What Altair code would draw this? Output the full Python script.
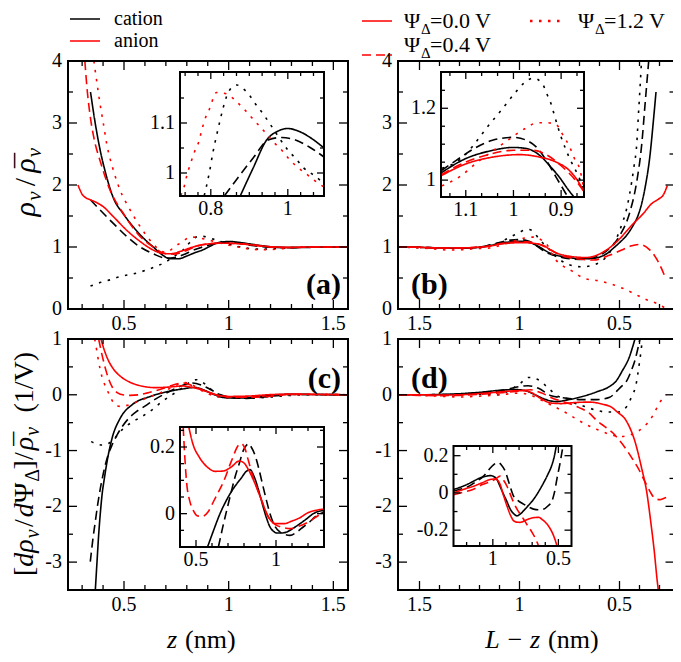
import altair as alt
import pandas as pd

# ------------------------------------------------------------------
# DATA
# ------------------------------------------------------------------
# panel (a): rho/rhobar versus z (nm)
A_CAT_00 = [(0.34,3.5),(0.36,3.05),(0.385,2.58),(0.41,2.22),(0.447,1.81),(0.5,1.52),(0.543,1.33),(0.6,1.12),(0.64,1.0),(0.68,0.88),(0.72,0.81),(0.76,0.81),(0.8,0.855),(0.84,0.91),(0.877,0.954),(0.91,1.01),(0.945,1.066),(0.975,1.083),(1.0,1.089),(1.05,1.075),(1.1,1.05),(1.15,1.025),(1.2,1.005),(1.3,0.99),(1.4,0.995),(1.57,1.0)]
A_CAT_04 = [(0.34,1.76),(0.385,1.6),(0.449,1.38),(0.513,1.17),(0.577,1.0),(0.64,0.89),(0.7,0.82),(0.74,0.83),(0.78,0.87),(0.836,0.954),(0.89,1.015),(0.949,1.066),(0.984,1.071),(1.04,1.06),(1.09,1.033),(1.15,1.01),(1.2,0.995),(1.3,0.99),(1.4,0.998),(1.57,1.0)]
A_CAT_12 = [(0.34,0.37),(0.39,0.43),(0.433,0.47),(0.49,0.53),(0.543,0.565),(0.6,0.62),(0.648,0.68),(0.7,0.76),(0.74,0.85),(0.77,0.92),(0.783,0.954),(0.796,1.0),(0.806,1.043),(0.815,1.075),(0.824,1.105),(0.832,1.13),(0.841,1.153),(0.854,1.171),(0.868,1.176),(0.88,1.171),(0.901,1.155),(0.918,1.136),(0.936,1.118),(0.953,1.099),(0.984,1.063),(1.0,1.046),(1.023,1.027),(1.04,1.011),(1.067,0.996),(1.086,0.982),(1.15,0.965),(1.2,0.97),(1.3,0.99),(1.4,1.0),(1.57,1.0)]
A_AN_00 = [(0.28,2.0),(0.29,1.92),(0.3,1.85),(0.315,1.8),(0.34,1.76),(0.361,1.73),(0.401,1.65),(0.449,1.49),(0.513,1.27),(0.577,1.09),(0.64,0.95),(0.68,0.9),(0.72,0.89),(0.77,0.93),(0.82,0.99),(0.864,1.03),(0.92,1.055),(0.96,1.06),(1.0,1.06),(1.06,1.05),(1.12,1.03),(1.2,1.005),(1.3,0.995),(1.4,1.0),(1.57,1.0)]
A_AN_04 = [(0.313,4.0),(0.325,3.5),(0.337,3.15),(0.36,2.7),(0.385,2.4),(0.433,1.92),(0.497,1.54),(0.577,1.17),(0.64,1.0),(0.69,0.9),(0.736,0.885),(0.78,0.92),(0.83,0.99),(0.88,1.04),(0.95,1.06),(1.0,1.06),(1.06,1.05),(1.12,1.03),(1.2,1.0),(1.3,0.99),(1.4,1.0),(1.57,1.0)]
A_AN_12 = [(0.356,4.0),(0.369,3.69),(0.385,3.32),(0.401,3.0),(0.417,2.67),(0.449,2.24),(0.481,1.92),(0.529,1.6),(0.577,1.33),(0.624,1.11),(0.66,0.98),(0.69,0.92),(0.71,0.92),(0.724,0.954),(0.747,1.018),(0.769,1.063),(0.796,1.127),(0.815,1.161),(0.842,1.158),(0.865,1.144),(0.886,1.128),(0.925,1.095),(0.964,1.061),(1.003,1.028),(1.047,0.999),(1.088,0.974),(1.15,0.955),(1.2,0.96),(1.3,0.985),(1.4,1.0),(1.57,1.0)]
# inset of (a)
AI_CAT_00 = [(0.877,0.955),(0.91,1.01),(0.945,1.066),(0.975,1.084),(1.0,1.089),(1.03,1.083),(1.06,1.07),(1.094,1.05)]
AI_CAT_04 = [(0.836,0.955),(0.87,0.99),(0.91,1.03),(0.949,1.066),(0.984,1.071),(1.02,1.066),(1.06,1.05),(1.094,1.032)]
AI_CAT_12 = [(0.783,0.955),(0.796,1.0),(0.806,1.043),(0.815,1.075),(0.824,1.105),(0.832,1.13),(0.841,1.153),(0.854,1.171),(0.868,1.176),(0.88,1.171),(0.901,1.155),(0.918,1.136),(0.936,1.118),(0.953,1.099),(0.984,1.063),(1.0,1.046),(1.023,1.027),(1.04,1.011),(1.067,0.996),(1.094,0.979)]
AI_AN_12 = [(0.722,0.955),(0.732,0.976),(0.738,0.996),(0.747,1.018),(0.758,1.043),(0.769,1.063),(0.776,1.084),(0.784,1.106),(0.796,1.127),(0.815,1.161),(0.842,1.158),(0.865,1.144),(0.886,1.128),(0.906,1.111),(0.925,1.095),(0.945,1.078),(0.964,1.061),(0.984,1.046),(1.003,1.028),(1.023,1.013),(1.047,0.999),(1.066,0.987),(1.094,0.972)]

# panel (b): rho/rhobar versus L - z (nm)
B_CAT_00 = [(1.6075,1.0),(1.5,0.995),(1.4,0.985),(1.3,0.98),(1.2,0.995),(1.152,1.02),(1.1,1.06),(1.05,1.081),(1.0,1.091),(0.973,1.088),(0.945,1.069),(0.924,1.04),(0.903,1.007),(0.875,0.95),(0.84,0.89),(0.8,0.855),(0.764,0.84),(0.72,0.815),(0.681,0.81),(0.64,0.815),(0.5975,0.84),(0.56,0.9),(0.531,0.98),(0.5,1.07),(0.464,1.19),(0.435,1.33),(0.406,1.52),(0.3875,1.72),(0.3725,1.95),(0.3475,2.48),(0.331,3.02),(0.3175,3.5)]
B_CAT_04 = [(1.6075,1.0),(1.5,0.995),(1.4,0.985),(1.3,0.98),(1.2,1.0),(1.152,1.026),(1.12,1.055),(1.086,1.085),(1.044,1.111),(1.0,1.119),(0.973,1.111),(0.949,1.088),(0.931,1.055),(0.91,1.007),(0.889,0.96),(0.85,0.89),(0.8,0.84),(0.75,0.81),(0.6975,0.8),(0.631,0.83),(0.56,0.95),(0.4975,1.19),(0.4475,1.57),(0.414,2.05),(0.389,2.65),(0.3725,3.29),(0.354,4.0)]
B_CAT_12 = [(1.6075,1.0),(1.5,0.99),(1.4,0.98),(1.3,0.975),(1.2,1.0),(1.15,1.033),(1.12,1.05),(1.1,1.072),(1.084,1.097),(1.054,1.149),(1.026,1.194),(0.994,1.247),(0.978,1.27),(0.959,1.284),(0.94,1.27),(0.93,1.24),(0.921,1.212),(0.914,1.18),(0.9,1.12),(0.882,1.06),(0.861,1.003),(0.848,0.95),(0.8,0.8),(0.7475,0.71),(0.689,0.68),(0.631,0.71),(0.5475,0.92),(0.52,1.1),(0.49,1.35),(0.464,1.62),(0.439,2.05),(0.4275,2.3),(0.414,2.65),(0.406,3.1),(0.3975,3.56),(0.39,4.0)]
B_AN_00 = [(1.6075,1.0),(1.5,0.995),(1.4,0.985),(1.3,0.985),(1.2,0.998),(1.152,1.012),(1.1,1.045),(1.044,1.064),(0.987,1.071),(0.945,1.064),(0.91,1.05),(0.882,1.026),(0.865,0.998),(0.856,0.975),(0.82,0.91),(0.78,0.87),(0.7475,0.85),(0.664,0.83),(0.581,0.92),(0.506,1.11),(0.439,1.35),(0.381,1.54),(0.339,1.7),(0.306,1.77),(0.281,1.84),(0.261,1.99)]
B_AN_04 = [(1.6075,1.0),(1.5,0.995),(1.4,0.985),(1.3,0.985),(1.2,1.0),(1.152,1.015),(1.1,1.05),(1.05,1.072),(1.0,1.083),(0.96,1.083),(0.93,1.07),(0.9,1.04),(0.87,1.0),(0.852,0.97),(0.7975,0.87),(0.714,0.81),(0.631,0.79),(0.5475,0.87),(0.489,0.95),(0.439,1.02),(0.3975,1.04),(0.3475,0.95),(0.306,0.76),(0.2725,0.52)]
B_AN_12 = [(1.6075,1.0),(1.5,0.985),(1.4,0.96),(1.35,0.95),(1.3,0.955),(1.2,0.975),(1.15,0.984),(1.11,1.012),(1.08,1.045),(1.05,1.075),(1.015,1.108),(0.994,1.128),(0.975,1.144),(0.952,1.159),(0.931,1.16),(0.91,1.154),(0.896,1.125),(0.882,1.092),(0.872,1.06),(0.861,1.031),(0.852,0.98),(0.83,0.84),(0.789,0.71),(0.731,0.6),(0.681,0.5),(0.5975,0.45),(0.539,0.4),(0.481,0.33),(0.4225,0.24),(0.3725,0.16),(0.314,0.09),(0.264,0.0)]
# inset of (b)
BI_CAT_00 = [(1.152,1.02),(1.1,1.06),(1.05,1.081),(1.0,1.091),(0.973,1.088),(0.945,1.069),(0.924,1.04),(0.903,1.007),(0.886,0.975),(0.873,0.953)]
BI_CAT_04 = [(1.152,1.026),(1.12,1.055),(1.086,1.085),(1.044,1.111),(1.0,1.119),(0.973,1.111),(0.949,1.088),(0.931,1.055),(0.91,1.007),(0.889,0.96),(0.886,0.953)]
BI_CAT_12 = [(1.15,1.033),(1.12,1.05),(1.1,1.072),(1.084,1.097),(1.054,1.149),(1.026,1.194),(0.994,1.247),(0.978,1.27),(0.959,1.284),(0.94,1.27),(0.93,1.24),(0.921,1.212),(0.914,1.18),(0.9,1.12),(0.882,1.06),(0.861,1.003),(0.853,0.975)]
BI_AN_00 = [(1.152,1.012),(1.1,1.045),(1.044,1.064),(0.987,1.071),(0.945,1.064),(0.91,1.05),(0.882,1.026),(0.865,0.998),(0.853,0.97)]
BI_AN_04 = [(1.152,1.015),(1.1,1.05),(1.05,1.072),(1.0,1.083),(0.96,1.083),(0.93,1.07),(0.9,1.04),(0.87,1.0),(0.853,0.97)]
BI_AN_12 = [(1.15,0.984),(1.11,1.012),(1.08,1.045),(1.05,1.075),(1.015,1.108),(0.994,1.128),(0.975,1.144),(0.952,1.159),(0.931,1.16),(0.91,1.154),(0.896,1.125),(0.882,1.092),(0.872,1.06),(0.861,1.031),(0.853,0.98)]

# panel (c): [d rho / d Psi]/rhobar versus z (nm)
C_CAT_00 = [(0.363,-3.5),(0.371,-3.0),(0.379,-2.51),(0.387,-2.12),(0.395,-1.8),(0.407,-1.48),(0.419,-1.2),(0.443,-0.78),(0.482,-0.42),(0.538,-0.18),(0.572,-0.1),(0.61,-0.05),(0.65,0.0),(0.69,0.04),(0.733,0.075),(0.78,0.105),(0.8375,0.132),(0.879,0.09),(0.92,0.02),(0.9625,-0.04),(1.004,-0.058),(1.067,-0.055),(1.15,-0.03),(1.233,0.0),(1.3,0.01),(1.4,0.005),(1.57,0.0)]
C_CAT_04 = [(0.339,-2.99),(0.351,-2.6),(0.363,-2.27),(0.375,-1.95),(0.387,-1.68),(0.403,-1.38),(0.419,-1.14),(0.443,-0.9),(0.467,-0.72),(0.523,-0.42),(0.56,-0.3),(0.602,-0.2),(0.64,-0.1),(0.692,0.01),(0.744,0.11),(0.796,0.19),(0.827,0.21),(0.869,0.175),(0.91,0.1),(0.9625,0.0),(1.025,-0.055),(1.0875,-0.065),(1.17,-0.04),(1.244,-0.01),(1.3,0.005),(1.4,0.005),(1.57,0.0)]
C_CAT_12 = [(0.343,-0.84),(0.37,-0.88),(0.395,-0.9),(0.443,-0.83),(0.49,-0.63),(0.538,-0.49),(0.586,-0.39),(0.634,-0.27),(0.682,-0.12),(0.73,0.0),(0.778,0.12),(0.825,0.25),(0.845,0.27),(0.87,0.24),(0.9,0.15),(0.94,0.03),(0.98,-0.04),(1.03,-0.06),(1.1,-0.06),(1.2,-0.04),(1.3,-0.01),(1.4,0.0),(1.57,0.0)]
C_AN_00 = [(0.39,1.0),(0.4,0.87),(0.42,0.66),(0.45,0.46),(0.48,0.34),(0.52,0.24),(0.56,0.18),(0.6,0.145),(0.65,0.128),(0.7,0.135),(0.75,0.15),(0.775,0.16),(0.8,0.15),(0.86,0.1),(0.91,0.04),(0.95,-0.01),(1.0,-0.03),(1.1,-0.022),(1.2,0.003),(1.3,0.012),(1.4,0.008),(1.57,0.0)]
C_AN_04 = [(0.379,1.0),(0.39,0.8),(0.403,0.59),(0.415,0.42),(0.427,0.28),(0.445,0.13),(0.467,0.04),(0.5,-0.005),(0.53,-0.01),(0.57,0.0),(0.608,0.03),(0.671,0.095),(0.723,0.16),(0.765,0.205),(0.785,0.21),(0.827,0.16),(0.879,0.08),(0.942,0.0),(1.004,-0.035),(1.0875,-0.045),(1.19,-0.03),(1.296,0.005),(1.4,0.005),(1.57,0.0)]
C_AN_12 = [(0.36,1.0),(0.371,0.77),(0.379,0.59),(0.395,0.32),(0.407,0.19),(0.419,0.09),(0.435,-0.04),(0.451,-0.15),(0.47,-0.2),(0.49,-0.21),(0.515,-0.19),(0.546,-0.15),(0.6,-0.07),(0.65,0.0),(0.7,0.08),(0.75,0.17),(0.78,0.22),(0.81,0.21),(0.85,0.12),(0.9,0.02),(0.95,-0.04),(1.0,-0.05),(1.1,-0.04),(1.2,-0.02),(1.3,0.0),(1.4,0.01),(1.57,0.0)]
# inset of (c)
CI_CAT_00 = [(0.572,-0.1),(0.61,-0.05),(0.65,0.0),(0.69,0.04),(0.733,0.075),(0.78,0.105),(0.817,0.128),(0.8375,0.132),(0.86,0.115),(0.879,0.09),(0.9,0.055),(0.92,0.02),(0.94,-0.012),(0.9625,-0.04),(0.985,-0.053),(1.004,-0.058),(1.035,-0.058),(1.067,-0.055),(1.11,-0.043),(1.15,-0.03),(1.19,-0.016),(1.233,0.0),(1.3,0.01)]
CI_CAT_04 = [(0.64,-0.1),(0.665,-0.045),(0.692,0.01),(0.72,0.065),(0.744,0.11),(0.77,0.15),(0.796,0.19),(0.815,0.205),(0.827,0.21),(0.845,0.2),(0.869,0.175),(0.89,0.14),(0.91,0.1),(0.935,0.05),(0.9625,0.0),(0.99,-0.035),(1.025,-0.055),(1.06,-0.063),(1.0875,-0.065),(1.13,-0.055),(1.17,-0.04),(1.21,-0.025),(1.244,-0.01),(1.3,0.005)]
CI_AN_00 = [(0.455,0.26),(0.48,0.21),(0.52,0.17),(0.57,0.14),(0.62,0.127),(0.67,0.128),(0.72,0.14),(0.77,0.158),(0.8,0.152),(0.83,0.13),(0.86,0.1),(0.91,0.04),(0.95,-0.008),(1.0,-0.03),(1.05,-0.03),(1.1,-0.022),(1.15,-0.012),(1.2,0.003),(1.25,0.01),(1.3,0.014)]
CI_AN_04 = [(0.42,0.26),(0.43,0.17),(0.442,0.09),(0.46,0.04),(0.483,0.01),(0.51,-0.007),(0.54,-0.008),(0.575,0.005),(0.608,0.035),(0.64,0.065),(0.671,0.095),(0.723,0.16),(0.765,0.205),(0.785,0.21),(0.806,0.195),(0.827,0.16),(0.85,0.12),(0.879,0.08),(0.91,0.04),(0.942,0.0),(0.975,-0.025),(1.004,-0.035),(1.05,-0.042),(1.0875,-0.045),(1.14,-0.038),(1.19,-0.028),(1.25,-0.01),(1.3,0.005)]

# panel (d): [d rho / d Psi]/rhobar versus L - z (nm)
D_CAT_00 = [(1.6075,0.0),(1.5,0.0),(1.4,0.005),(1.3,0.019),(1.198,0.045),(1.096,0.081),(1.02,0.093),(0.969,0.072),(0.918,-0.008),(0.867,-0.087),(0.816,-0.123),(0.766,-0.096),(0.689,-0.034),(0.613,0.054),(0.549,0.151),(0.516,0.25),(0.489,0.41),(0.4475,0.71),(0.435,0.85),(0.4225,1.0)]
D_CAT_04 = [(1.6075,0.0),(1.5,0.0),(1.4,0.003),(1.3,0.01),(1.198,0.03),(1.071,0.09),(0.995,0.151),(0.957,0.163),(0.905,0.116),(0.842,-0.017),(0.766,-0.06),(0.689,-0.087),(0.613,-0.087),(0.549,-0.043),(0.531,0.0),(0.51,0.08),(0.49,0.15),(0.464,0.25),(0.4425,0.42),(0.4225,0.62),(0.41,0.8),(0.3975,1.0)]
D_CAT_12 = [(1.6075,0.0),(1.5,0.0),(1.4,0.0),(1.3,0.0),(1.2,0.01),(1.0975,0.0),(1.0475,0.09),(0.9975,0.2),(0.956,0.31),(0.906,0.27),(0.856,0.12),(0.806,-0.03),(0.7725,-0.06),(0.7225,-0.15),(0.6725,-0.21),(0.6225,-0.27),(0.564,-0.31),(0.506,-0.31),(0.464,-0.21),(0.439,-0.03),(0.4175,0.18),(0.401,0.56),(0.389,0.89),(0.386,1.0)]
D_AN_00 = [(1.6075,0.0),(1.5,0.0),(1.4,-0.005),(1.3,0.0),(1.147,0.036),(1.02,0.072),(0.982,0.075),(0.944,0.045),(0.892,-0.07),(0.842,-0.149),(0.791,-0.158),(0.727,-0.14),(0.651,-0.131),(0.587,-0.167),(0.537,-0.229),(0.514,-0.3),(0.464,-0.48),(0.4225,-0.84),(0.389,-1.32),(0.364,-1.74),(0.344,-2.27),(0.326,-2.81),(0.311,-3.35),(0.306,-3.5)]
D_AN_04 = [(1.6075,0.0),(1.5,-0.01),(1.4,-0.015),(1.3,-0.01),(1.147,0.02),(1.02,0.06),(0.944,0.09),(0.892,0.036),(0.829,-0.07),(0.766,-0.14),(0.702,-0.23),(0.651,-0.33),(0.614,-0.46),(0.57,-0.58),(0.531,-0.69),(0.5,-0.82),(0.464,-0.99),(0.435,-1.15),(0.406,-1.32),(0.385,-1.47),(0.364,-1.62),(0.345,-1.75),(0.331,-1.83),(0.315,-1.87),(0.2975,-1.88),(0.28,-1.86),(0.264,-1.84)]
D_AN_12 = [(1.6075,0.0),(1.5,-0.01),(1.4,-0.025),(1.3,-0.04),(1.2,-0.025),(1.1,0.0),(1.0,0.03),(0.95,0.0),(0.9,-0.08),(0.85,-0.17),(0.8,-0.26),(0.764,-0.33),(0.7225,-0.42),(0.664,-0.54),(0.606,-0.63),(0.5475,-0.71),(0.4975,-0.75),(0.4475,-0.72),(0.3975,-0.63),(0.361,-0.51),(0.331,-0.36),(0.301,-0.15),(0.2675,0.0)]
# inset of (d)
DI_CAT_00 = [(1.3,0.019),(1.25,0.03),(1.198,0.045),(1.15,0.062),(1.096,0.081),(1.05,0.09),(1.02,0.093),(0.99,0.087),(0.969,0.072),(0.945,0.035),(0.918,-0.008),(0.89,-0.05),(0.867,-0.087),(0.84,-0.112),(0.816,-0.123),(0.79,-0.113),(0.766,-0.096),(0.73,-0.068),(0.689,-0.034),(0.65,0.008),(0.613,0.054),(0.58,0.1),(0.549,0.151),(0.53,0.2),(0.516,0.252)]
DI_CAT_04 = [(1.3,0.01),(1.25,0.02),(1.198,0.03),(1.13,0.06),(1.071,0.09),(1.03,0.125),(0.995,0.151),(0.975,0.16),(0.957,0.163),(0.935,0.15),(0.905,0.116),(0.875,0.05),(0.842,-0.017),(0.81,-0.04),(0.766,-0.06),(0.72,-0.078),(0.689,-0.087),(0.65,-0.09),(0.613,-0.087),(0.58,-0.07),(0.549,-0.043),(0.531,0.0),(0.51,0.08),(0.49,0.15),(0.465,0.252)]
DI_AN_00 = [(1.3,0.0),(1.22,0.02),(1.147,0.036),(1.08,0.055),(1.02,0.072),(0.982,0.075),(0.96,0.065),(0.944,0.045),(0.92,-0.01),(0.892,-0.07),(0.865,-0.12),(0.842,-0.149),(0.815,-0.157),(0.791,-0.158),(0.76,-0.15),(0.727,-0.14),(0.69,-0.133),(0.651,-0.131),(0.62,-0.145),(0.587,-0.167),(0.56,-0.195),(0.537,-0.229),(0.51,-0.285)]
DI_AN_04 = [(1.3,-0.01),(1.22,0.005),(1.147,0.02),(1.08,0.045),(1.02,0.06),(0.98,0.075),(0.944,0.09),(0.92,0.07),(0.892,0.036),(0.86,-0.02),(0.829,-0.07),(0.8,-0.105),(0.766,-0.14),(0.735,-0.175),(0.702,-0.21),(0.675,-0.245),(0.651,-0.285)]

# tick values and tick labels
MAIN_X_MAJOR = [0.5, 1.0, 1.5]
MAIN_X_MINOR = [0.3, 0.4, 0.6, 0.7, 0.8, 0.9, 1.1, 1.2, 1.3, 1.4]
MAIN_X_LABELS = ["0.5", "1", "1.5"]
TOP_Y_MAJOR = [0, 1, 2, 3, 4]
TOP_Y_MINOR = [0.5, 1.5, 2.5, 3.5]
TOP_Y_LABELS = ["0", "1", "2", "3", "4"]
BOT_Y_MAJOR = [1, 0, -1, -2, -3]
BOT_Y_MINOR = [0.5, -0.5, -1.5, -2.5]
BOT_Y_LABELS = ["1", "0", "-1", "-2", "-3"]
AI_X_MAJOR = [0.8, 1.0]
AI_X_MINOR = [0.7333, 0.7667, 0.8333, 0.8667, 0.9, 0.9333, 0.9667, 1.0333, 1.0667]
AI_X_LABELS = ["0.8", "1"]
AI_Y_MAJOR = [1.0, 1.1]
AI_Y_MINOR = [1.05, 1.15]
AI_Y_LABELS = ["1", "1.1"]
BI_X_MAJOR = [1.1, 1.0, 0.9]
BI_X_MINOR = [1.1333, 1.0667, 1.0333, 0.9667, 0.9333, 0.8667]
BI_X_LABELS = ["1.1", "1", "0.9"]
BI_Y_MAJOR = [1.0, 1.2]
BI_Y_MINOR = [1.05, 1.1, 1.15, 1.25]
BI_Y_LABELS = ["1", "1.2"]
CI_X_MAJOR = [0.5, 1.0]
CI_X_MINOR = [0.6, 0.7, 0.8, 0.9, 1.1, 1.2]
CI_X_LABELS = ["0.5", "1"]
CI_Y_MAJOR = [0.0, 0.2]
CI_Y_MINOR = [-0.05, 0.05, 0.1, 0.15, 0.25]
CI_Y_LABELS = ["0", "0.2"]
DI_X_MAJOR = [1.0, 0.5]
DI_X_MINOR = [1.2, 1.1, 0.9, 0.8, 0.7, 0.6]
DI_X_LABELS = ["1", "0.5"]
DI_Y_MAJOR = [0.2, 0.0, -0.2]
DI_Y_MINOR = [0.1, -0.1]
DI_Y_LABELS = ["0.2", "0", "-0.2"]

ION_NAMES = ["cation", "anion"]
PSI_NAMES = ["0.0", "0.4", "1.2"]

# ------------------------------------------------------------------
# LAYOUT (page pixel coordinates)
# ------------------------------------------------------------------
W, H = 665, 646
OFF = 8
FONT = "Liberation Serif"


def c(v):
    return v - OFF


# x0, x1, y0, y1, x-domain, y-domain
G_A = (68, 348, 61, 309, [0.2325, 1.57], [0, 4])
G_B = (398, 674.5, 61, 309, [1.6075, 0.225], [0, 4])
G_C = (68, 348, 339, 590, [0.2325, 1.57], [-3.5, 1])
G_D = (398, 674.5, 339, 590, [1.6075, 0.225], [-3.5, 1])
G_AI = (180, 324, 72, 196, [0.72, 1.094], [0.954, 1.202])
G_BI = (441, 584, 72, 197, [1.152, 0.852], [0.953, 1.301])
G_CI = (180, 324, 427, 547, [0.4, 1.3], [-0.1, 0.26])
G_DI = (453.5, 571.5, 446, 546, [1.3, 0.4], [-0.285, 0.252])


def scales(g):
    x0, x1, y0, y1, xd, yd = g
    xs = alt.Scale(domain=xd, range=[c(x0), c(x1)], nice=False, zero=False)
    ys = alt.Scale(domain=yd, range=[c(y1), c(y0)], nice=False, zero=False)
    return xs, ys


COLOR = alt.Color("ion:N", scale=alt.Scale(domain=ION_NAMES, range=["#000000", "#ff0000"]), legend=None)
DASH = alt.StrokeDash("psi:N", scale=alt.Scale(domain=PSI_NAMES, range=[[1, 0], [9, 5], [2.5, 6.5]]), legend=None)
SW = alt.StrokeWidth("psi:N", scale=alt.Scale(domain=PSI_NAMES, range=[1.6, 1.6, 2.7]), legend=None)


def line_layer(series, g):
    xs, ys = scales(g)
    rows = []
    for ion, psi, pts in series:
        for i, (x, y) in enumerate(pts):
            rows.append({"x": x, "y": y, "ion": ion, "psi": psi, "key": ion + psi, "i": i})
    return alt.Chart(pd.DataFrame(rows)).mark_line(interpolate="monotone", strokeCap="butt").encode(
        x=alt.X("x:Q", scale=xs, axis=None),
        y=alt.Y("y:Q", scale=ys, axis=None),
        color=COLOR, strokeDash=DASH, strokeWidth=SW,
        detail="key:N", order="i:Q",
    )


def frame(g, sw=2):
    x0, x1, y0, y1 = g[:4]
    return alt.Chart(pd.DataFrame({"k": [0]})).mark_rect(
        fill="transparent", stroke="black", strokeWidth=sw
    ).encode(x=alt.value(c(x0)), x2=alt.value(c(x1)), y=alt.value(c(y0)), y2=alt.value(c(y1)))


def ticks(g, xmaj, xmin, ymaj, ymin, lmaj, lmin, sw=1.3):
    xs, ys = scales(g)
    x0, x1, y0, y1 = [c(v) for v in g[:4]]
    out = []
    for vals, L in ((xmaj, lmaj), (xmin, lmin)):
        base = alt.Chart(pd.DataFrame({"v": vals})).mark_rule(color="black", strokeWidth=sw)
        out.append(base.encode(x=alt.X("v:Q", scale=xs, axis=None), y=alt.value(y1), y2=alt.value(y1 - L)))
        out.append(base.encode(x=alt.X("v:Q", scale=xs, axis=None), y=alt.value(y0), y2=alt.value(y0 + L)))
    for vals, L in ((ymaj, lmaj), (ymin, lmin)):
        base = alt.Chart(pd.DataFrame({"v": vals})).mark_rule(color="black", strokeWidth=sw)
        out.append(base.encode(y=alt.Y("v:Q", scale=ys, axis=None), x=alt.value(x0), x2=alt.value(x0 + L)))
        out.append(base.encode(y=alt.Y("v:Q", scale=ys, axis=None), x=alt.value(x1), x2=alt.value(x1 - L)))
    return out


def xlabels(g, vals, texts, dy, size=20):
    xs, _ = scales(g)
    return alt.Chart(pd.DataFrame({"v": vals, "t": texts})).mark_text(
        font=FONT, fontSize=size, baseline="top", color="black"
    ).encode(x=alt.X("v:Q", scale=xs, axis=None), y=alt.value(c(g[3]) + dy), text="t:N")


def ylabels(g, vals, texts, dx, size=20):
    _, ys = scales(g)
    return alt.Chart(pd.DataFrame({"v": vals, "t": texts})).mark_text(
        font=FONT, fontSize=size, baseline="middle", align="right", color="black"
    ).encode(y=alt.Y("v:Q", scale=ys, axis=None), x=alt.value(c(g[0]) - dx), text="t:N")


def txt(s, x, y, size, style="normal", weight="normal", angle=0, align="left",
        baseline="alphabetic", color="black"):
    kw = dict(font=FONT, fontSize=size, align=align, baseline=baseline, color=color)
    if style != "normal":
        kw["fontStyle"] = style
    if weight != "normal":
        kw["fontWeight"] = weight
    if angle:
        kw["angle"] = angle
    return alt.Chart(pd.DataFrame({"t": [s]})).mark_text(**kw).encode(
        x=alt.value(c(x)), y=alt.value(c(y)), text="t:N")


EM = {"[": .333, "]": .333, "(": .333, ")": .333, "/": .278, "1": .5, "V": .722, " ": .25,
      "Ψ": .77, "Δ": .61, "d": .5, "ρ": .52, "ν": .46}
BAR = "\u00af"


def width(s, size):
    return sum(EM.get(ch, .5) for ch in s) * size


def vtitle(pieces, xb, yc):
    """Rotated title laid out bottom-to-top; BAR pieces put a macron over the previous glyph."""
    total = sum(width(t, s) + gap for t, s, st, sub, gap in pieces if t != BAR)
    y = yc + total / 2
    last = y
    out = []
    for t, s, st, sub, gap in pieces:
        if t == BAR:
            out.append(txt(BAR, xb + 1, last - 0.16 * s, s, angle=270))
            continue
        y -= gap
        last = y
        out.append(txt(t, xb + (6 if sub else 0), y, s, style=st, angle=270))
        y -= width(t, s)
    return out


def panel(g, gi, series, iseries, xmaj, xmin, xl, ymaj, ymin, yl,
          ixmaj, ixmin, ixl, iymaj, iymin, iyl):
    lay = [line_layer(series, g), line_layer(iseries, gi), frame(g), frame(gi)]
    lay += ticks(g, xmaj, xmin, ymaj, ymin, 9, 5)
    lay += ticks(gi, ixmaj, ixmin, iymaj, iymin, 7, 4)
    lay.append(xlabels(g, xmaj, xl, 5))
    lay.append(ylabels(g, ymaj, yl, 6))
    lay.append(xlabels(gi, ixmaj, ixl, 3))
    lay.append(ylabels(gi, iymaj, iyl, 5))
    return lay


def S(ion, psi, pts):
    return (ion, psi, pts)


layers = []
layers += panel(G_A, G_AI,
                [S("cation", "0.0", A_CAT_00), S("cation", "0.4", A_CAT_04), S("cation", "1.2", A_CAT_12),
                 S("anion", "0.0", A_AN_00), S("anion", "0.4", A_AN_04), S("anion", "1.2", A_AN_12)],
                [S("cation", "0.0", AI_CAT_00), S("cation", "0.4", AI_CAT_04), S("cation", "1.2", AI_CAT_12),
                 S("anion", "1.2", AI_AN_12)],
                MAIN_X_MAJOR, MAIN_X_MINOR, MAIN_X_LABELS, TOP_Y_MAJOR, TOP_Y_MINOR, TOP_Y_LABELS,
                AI_X_MAJOR, AI_X_MINOR, AI_X_LABELS, AI_Y_MAJOR, AI_Y_MINOR, AI_Y_LABELS)
layers += panel(G_B, G_BI,
                [S("cation", "0.0", B_CAT_00), S("cation", "0.4", B_CAT_04), S("cation", "1.2", B_CAT_12),
                 S("anion", "0.0", B_AN_00), S("anion", "0.4", B_AN_04), S("anion", "1.2", B_AN_12)],
                [S("cation", "0.0", BI_CAT_00), S("cation", "0.4", BI_CAT_04), S("cation", "1.2", BI_CAT_12),
                 S("anion", "0.0", BI_AN_00), S("anion", "0.4", BI_AN_04), S("anion", "1.2", BI_AN_12)],
                MAIN_X_MAJOR, MAIN_X_MINOR, MAIN_X_LABELS, TOP_Y_MAJOR, TOP_Y_MINOR, TOP_Y_LABELS,
                BI_X_MAJOR, BI_X_MINOR, BI_X_LABELS, BI_Y_MAJOR, BI_Y_MINOR, BI_Y_LABELS)
layers += panel(G_C, G_CI,
                [S("cation", "0.0", C_CAT_00), S("cation", "0.4", C_CAT_04), S("cation", "1.2", C_CAT_12),
                 S("anion", "0.0", C_AN_00), S("anion", "0.4", C_AN_04), S("anion", "1.2", C_AN_12)],
                [S("cation", "0.0", CI_CAT_00), S("cation", "0.4", CI_CAT_04),
                 S("anion", "0.0", CI_AN_00), S("anion", "0.4", CI_AN_04)],
                MAIN_X_MAJOR, MAIN_X_MINOR, MAIN_X_LABELS, BOT_Y_MAJOR, BOT_Y_MINOR, BOT_Y_LABELS,
                CI_X_MAJOR, CI_X_MINOR, CI_X_LABELS, CI_Y_MAJOR, CI_Y_MINOR, CI_Y_LABELS)
layers += panel(G_D, G_DI,
                [S("cation", "0.0", D_CAT_00), S("cation", "0.4", D_CAT_04), S("cation", "1.2", D_CAT_12),
                 S("anion", "0.0", D_AN_00), S("anion", "0.4", D_AN_04), S("anion", "1.2", D_AN_12)],
                [S("cation", "0.0", DI_CAT_00), S("cation", "0.4", DI_CAT_04),
                 S("anion", "0.0", DI_AN_00), S("anion", "0.4", DI_AN_04)],
                MAIN_X_MAJOR, MAIN_X_MINOR, MAIN_X_LABELS, BOT_Y_MAJOR, BOT_Y_MINOR, BOT_Y_LABELS,
                DI_X_MAJOR, DI_X_MINOR, DI_X_LABELS, DI_Y_MAJOR, DI_Y_MINOR, DI_Y_LABELS)

# panel letters
layers.append(txt("(a)", 341, 294, 30, weight="bold", align="right"))
layers.append(txt("(b)", 411, 294, 30, weight="bold"))
layers.append(txt("(c)", 341, 388, 30, weight="bold", align="right"))
layers.append(txt("(d)", 411, 388, 30, weight="bold"))

# axis titles
layers += vtitle([("ρ", 30, "italic", False, 0), ("ν", 21, "italic", True, 0), ("/", 30, "normal", False, 5),
                  ("ρ", 30, "italic", False, 5), (BAR, 30, "normal", False, 0),
                  ("ν", 21, "italic", True, 0)], 35, 182)
layers += vtitle([("[", 28, "normal", False, 0), ("dρ", 28, "italic", False, 0), ("ν", 20, "italic", True, 0),
                  ("/", 28, "normal", False, 2), ("d", 28, "italic", False, 2), ("Ψ", 28, "normal", False, 0),
                  ("Δ", 20, "normal", True, 0), ("]/", 28, "normal", False, 0), ("ρ", 28, "italic", False, 2),
                  (BAR, 28, "normal", False, 0),
                  ("ν", 20, "italic", True, 0), ("(1/V)", 28, "normal", False, 14)], 33, 464)
layers.append(txt("z", 177, 648, 26, style="italic", align="right"))
layers.append(txt("(nm)", 185, 648, 26))
layers.append(txt("L − z", 540, 648, 26, style="italic", align="right"))
layers.append(txt("(nm)", 548, 648, 26))

# legend
LEG = [("cation", "#000000", [1, 0], 1.6, 70, 100, 19), ("anion", "#ff0000", [1, 0], 1.6, 70, 100, 41)]
for lab, col, dash, sw, xa, xb, yy in LEG:
    layers.append(alt.Chart(pd.DataFrame({"k": [0]})).mark_rule(color=col, strokeWidth=sw, strokeDash=dash).encode(
        x=alt.value(c(xa)), x2=alt.value(c(xb)), y=alt.value(c(yy))))
    layers.append(txt(lab, 114, yy, 20, baseline="middle"))
PSI_LEG = [("0.0", [1, 0], 1.6, 362, 392, 21, 404, 28),
           ("1.2", [2.5, 6.5], 2.7, 530, 563, 21, 578, 28),
           ("0.4", [9, 5], 1.6, 362, 392, 55, 404, 52)]
for val, dash, sw, xa, xb, yy, xt, yt in PSI_LEG:
    layers.append(alt.Chart(pd.DataFrame({"k": [0]})).mark_rule(color="#ff0000", strokeWidth=sw, strokeDash=dash).encode(
        x=alt.value(c(xa)), x2=alt.value(c(xb)), y=alt.value(c(yy))))
    layers.append(txt("Ψ", xt, yt, 22))
    layers.append(txt("Δ", xt + 17, yt + 6, 15))
    layers.append(txt("=" + val + " V", xt + 26, yt, 22))

chart = alt.layer(*layers).resolve_scale(x="independent", y="independent").properties(
    width=W, height=H, padding=0, autosize=alt.AutoSizeParams(type="none")
).configure_view(strokeWidth=0)

chart.save("out.html", embed_options={"renderer": "svg", "actions": False})
